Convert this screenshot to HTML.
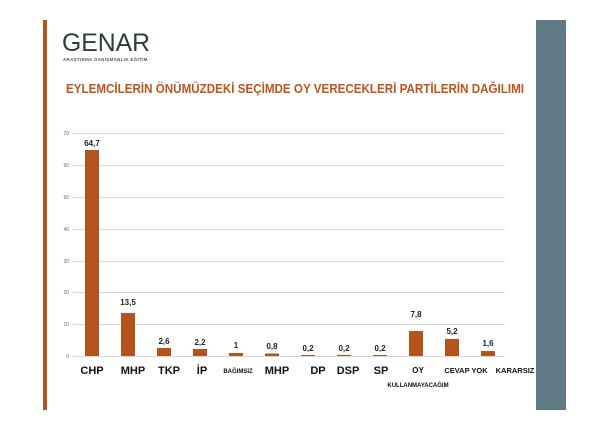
<!DOCTYPE html>
<html><head><meta charset="utf-8"><style>
body{margin:0;width:610px;height:431px;background:#fff;overflow:hidden;font-family:"Liberation Sans",sans-serif}
</style></head><body>
<svg width="610" height="431" xmlns="http://www.w3.org/2000/svg" style="position:absolute;left:0;top:0">
<rect x="43" y="20" width="4" height="390" fill="#b5531c"/>
<rect x="536" y="20" width="30" height="390" fill="#5f7a85"/>
<text x="62" y="51" font-size="25" fill="#2f3b3c" textLength="88" lengthAdjust="spacingAndGlyphs" font-family="Liberation Sans">GENAR</text>
<text x="63" y="61" font-size="4.5" fill="#555" font-weight="bold" letter-spacing="0.3">ARAŞTIRMA DANIŞMANLIK EĞİTİM</text>
<text x="66" y="93" font-size="12.5" font-weight="bold" fill="#c0541c" textLength="458" lengthAdjust="spacingAndGlyphs">EYLEMCİLERİN ÖNÜMÜZDEKİ SEÇİMDE OY VERECEKLERİ PARTİLERİN DAĞILIMI</text>
<g stroke="#d9d9d9" stroke-width="1">
<line x1="73" x2="505" y1="133.5" y2="133.5"/><line x1="73" x2="505" y1="165.5" y2="165.5"/>
<line x1="73" x2="505" y1="197.5" y2="197.5"/><line x1="73" x2="505" y1="229.5" y2="229.5"/>
<line x1="73" x2="505" y1="261.5" y2="261.5"/><line x1="73" x2="505" y1="292.5" y2="292.5"/>
<line x1="73" x2="505" y1="324.5" y2="324.5"/><line x1="73" x2="505" y1="356.5" y2="356.5"/>
</g>
<g font-size="5" fill="#666" text-anchor="end">
<text x="69" y="135">70</text><text x="69" y="167">60</text><text x="69" y="199">50</text><text x="69" y="231">40</text>
<text x="69" y="263">30</text><text x="69" y="294">20</text><text x="69" y="326">10</text><text x="69" y="358">0</text>
</g>
<g fill="#b5531c">
<rect x="85" y="150" width="14" height="206"/>
<rect x="121" y="313" width="14" height="43"/>
<rect x="157" y="348" width="14" height="8"/>
<rect x="193" y="349" width="14" height="7"/>
<rect x="229" y="353" width="14" height="3"/>
<rect x="265" y="353.5" width="14" height="2.5"/>
<rect x="301" y="355" width="14" height="1"/>
<rect x="337" y="355" width="14" height="1"/>
<rect x="373" y="355" width="14" height="1"/>
<rect x="409" y="331" width="14" height="25"/>
<rect x="445" y="339" width="14" height="17"/>
<rect x="481" y="351" width="14" height="5"/>
</g>
<g font-size="8" font-weight="bold" fill="#222" text-anchor="middle">
<text x="92" y="146">64,7</text><text x="128" y="305">13,5</text><text x="164" y="344">2,6</text>
<text x="200" y="345">2,2</text><text x="236" y="348">1</text><text x="272" y="349">0,8</text>
<text x="308" y="351">0,2</text><text x="344" y="351">0,2</text><text x="380" y="351">0,2</text>
<text x="416" y="317">7,8</text><text x="452" y="334">5,2</text><text x="488" y="346">1,6</text>
</g>
<g font-weight="bold" fill="#111" text-anchor="middle">
<text x="92" y="374" font-size="11">CHP</text><text x="133" y="374" font-size="11">MHP</text>
<text x="169" y="374" font-size="11">TKP</text><text x="202" y="374" font-size="11">İP</text>
<text x="238" y="373" font-size="6">BAĞIMSIZ</text><text x="277" y="374" font-size="11">MHP</text>
<text x="318" y="374" font-size="11">DP</text><text x="348" y="374" font-size="11">DSP</text>
<text x="381" y="374" font-size="11">SP</text><text x="418" y="373" font-size="8">OY</text>
<text x="466" y="373" font-size="7.5">CEVAP YOK</text><text x="515" y="373" font-size="7.5">KARARSIZ</text>
<text x="418" y="387" font-size="6">KULLANMAYACAĞIM</text>
</g>
</svg>
</body></html>
